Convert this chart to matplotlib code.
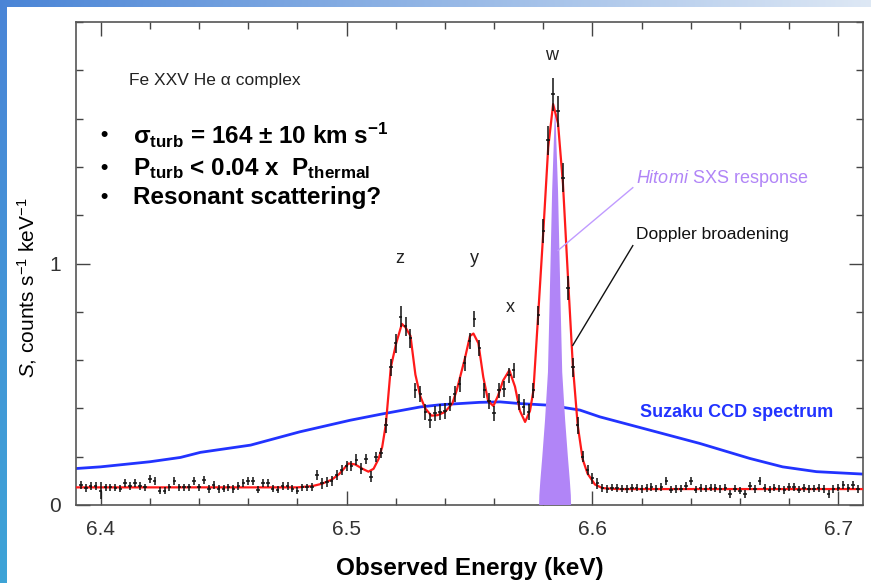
import numpy as np
import matplotlib
matplotlib.use('Agg')
import matplotlib.pyplot as plt
from matplotlib.patches import Rectangle
from matplotlib.ticker import MultipleLocator

plt.rcParams['font.family'] = 'Liberation Sans'
plt.rcParams['mathtext.fontset'] = 'custom'
plt.rcParams['mathtext.rm'] = 'Liberation Sans'
plt.rcParams['mathtext.it'] = 'Liberation Sans:italic'
plt.rcParams['mathtext.bf'] = 'Liberation Sans:bold'

# Hitomi SXS spectrum, bins of 2 eV starting at 6.392 keV
e_start = 6.392
e_step = 0.002
counts = [
    0.083, 0.070, 0.080, 0.080, 0.060, 0.073, 0.073, 0.072, 0.068, 0.090,
    0.078, 0.092, 0.080, 0.073, 0.107, 0.100, 0.060, 0.060, 0.073, 0.100,
    0.073, 0.073, 0.073, 0.100, 0.073, 0.103, 0.065, 0.083, 0.065, 0.068,
    0.073, 0.067, 0.078, 0.090, 0.100, 0.100, 0.064, 0.092, 0.092, 0.068,
    0.064, 0.078, 0.078, 0.068, 0.060, 0.073, 0.073, 0.076, 0.124, 0.090,
    0.095, 0.100, 0.124, 0.145, 0.162, 0.162, 0.188, 0.150, 0.190, 0.117,
    0.198, 0.216, 0.330, 0.570, 0.670, 0.780, 0.740, 0.690, 0.475, 0.460,
    0.385, 0.350, 0.380, 0.385, 0.390, 0.420, 0.460, 0.500, 0.587, 0.680,
    0.770, 0.650, 0.475, 0.430, 0.380, 0.475, 0.480, 0.537, 0.558, 0.427,
    0.406, 0.385, 0.475, 0.785, 1.136, 1.510, 1.700, 1.630, 1.355, 0.900,
    0.570, 0.330, 0.200, 0.145, 0.110, 0.090, 0.070, 0.066, 0.072, 0.070,
    0.068, 0.066, 0.070, 0.072, 0.066, 0.070, 0.075, 0.068, 0.074, 0.100,
    0.064, 0.066, 0.068, 0.078, 0.100, 0.064, 0.070, 0.068, 0.072, 0.070,
    0.066, 0.072, 0.045, 0.068, 0.060, 0.045, 0.080, 0.066, 0.100, 0.070,
    0.064, 0.072, 0.068, 0.062, 0.074, 0.075, 0.064, 0.070, 0.066, 0.068,
    0.070, 0.066, 0.045, 0.066, 0.072, 0.083, 0.070, 0.083, 0.066,
]
errors = ([0.016] * 4 + [0.035] + [0.016] * 43 + [0.022] * 14
          + [0.03, 0.035, 0.04, 0.045, 0.04, 0.04] + [0.032] * 25
          + [0.04, 0.05, 0.06, 0.07, 0.065, 0.06, 0.05, 0.04, 0.035]
          + [0.022] * 4 + [0.016] * 53)

model_e = [6.390, 6.480, 6.486, 6.490, 6.494, 6.497, 6.5008, 6.5035, 6.5065, 6.5089,
           6.511, 6.513, 6.5145, 6.516, 6.518, 6.5202, 6.5225, 6.524, 6.526, 6.528,
           6.530, 6.532, 6.5345, 6.537, 6.540, 6.543, 6.5448, 6.5482, 6.5502, 6.5516,
           6.5536, 6.5556, 6.5576, 6.5597, 6.5615, 6.5637, 6.5662, 6.5685, 6.5705, 6.5726,
           6.5746, 6.576, 6.578, 6.580, 6.582, 6.584, 6.586, 6.588, 6.590, 6.592,
           6.594, 6.596, 6.598, 6.601, 6.604, 6.610, 6.710]
model_s = [0.073, 0.073, 0.078, 0.088, 0.105, 0.128, 0.172, 0.168, 0.150, 0.138,
           0.150, 0.190, 0.240, 0.335, 0.570, 0.670, 0.750, 0.735, 0.700, 0.540,
           0.450, 0.400, 0.370, 0.372, 0.385, 0.420, 0.475, 0.610, 0.700, 0.710,
           0.670, 0.530, 0.430, 0.410, 0.450, 0.516, 0.558, 0.490, 0.390, 0.344,
           0.390, 0.475, 0.800, 1.130, 1.480, 1.660, 1.580, 1.330, 0.950, 0.580,
           0.330, 0.190, 0.130, 0.085, 0.070, 0.066, 0.066]

suzaku_e = [6.390, 6.400, 6.420, 6.4325, 6.4406, 6.461, 6.481, 6.5015, 6.514, 6.530,
            6.538, 6.554, 6.5624, 6.5705, 6.5827, 6.5949, 6.603, 6.6233, 6.6436, 6.6639,
            6.6773, 6.6911, 6.710]
suzaku_s = [0.151, 0.158, 0.179, 0.197, 0.218, 0.248, 0.303, 0.351, 0.376, 0.406,
            0.415, 0.425, 0.427, 0.420, 0.413, 0.393, 0.365, 0.310, 0.255, 0.193,
            0.158, 0.138, 0.128]

hitomi_e = [6.5783, 6.5784, 6.5788, 6.5796, 6.5807, 6.5819, 6.5826, 6.5836, 6.5848,
            6.5860, 6.5870, 6.5877, 6.5889, 6.5900, 6.5908, 6.5912, 6.5913]
hitomi_s = [0.0, 0.04, 0.1, 0.2, 0.35, 0.55, 0.85, 1.3, 1.66,
            1.3, 0.85, 0.55, 0.35, 0.2, 0.1, 0.04, 0.0]

energy = e_start + e_step * np.arange(len(counts))

fig = plt.figure(figsize=(8.71, 5.83), dpi=100)

# slide background
bg = fig.add_axes([0, 0, 1, 1])
bg.axis('off')
u = np.linspace(0, 1, 300)
v = np.linspace(0, 1, 200)
U, V = np.meshgrid(u, v)
left_c = np.array([0.29, 0.52, 0.84])
right_c = np.array([0.87, 0.91, 0.96])
img = left_c + (right_c - left_c) * U[..., None]
img = img + np.array([-0.05, 0.12, 0.0]) * (V * (1 - U))[..., None]
bg.imshow(np.clip(img, 0, 1), extent=[0, 1, 0, 1], aspect='auto', origin='upper')
bg.add_patch(Rectangle((7 / 871, 0), 1, 576 / 583, facecolor='white', edgecolor='none'))
bg.set_xlim(0, 1)
bg.set_ylim(0, 1)

ax = fig.add_axes([76 / 871, 78 / 583, 787 / 871, 483 / 583])
ax.set_xlim(6.39, 6.71)
ax.set_ylim(0, 2)

ax.plot(suzaku_e, suzaku_s, color='#2233ff', lw=2.0, zorder=2)
ax.fill(hitomi_e, hitomi_s, color='#b185f7', lw=0, zorder=3)
ax.plot(model_e, model_s, color='#ff1a1a', lw=1.6, zorder=4)
ax.errorbar(energy, counts, yerr=errors, xerr=0.0007, fmt='none',
            ecolor='#111111', elinewidth=1.1, zorder=5)

ax.xaxis.set_major_locator(MultipleLocator(0.1))
ax.xaxis.set_minor_locator(MultipleLocator(0.02))
ax.set_yticks([0, 1])
ax.yaxis.set_minor_locator(MultipleLocator(0.2))
ax.tick_params(which='both', direction='in', top=True, right=True, color='#444444', width=1.0)
ax.tick_params(which='major', length=10, labelsize=15, labelcolor='#333333', pad=11)
ax.tick_params(which='minor', length=5)
for s in ax.spines.values():
    s.set_color('#555555')
    s.set_linewidth(1.2)

ax.set_xlabel('Observed Energy (keV)', fontsize=17.5, fontweight='bold', labelpad=13)
ax.set_ylabel(r'$S$, counts s$^{-1}$ keV$^{-1}$', fontsize=15)
ax.yaxis.set_label_coords(-0.047, 0.45)

ax.text(6.4114, 1.756, u'Fe XXV He \u03b1 complex', fontsize=12.5, va='center', color='#222222')
for yy, txt in [(1.529, r'$\mathbf{\sigma_{turb}}$ = 164 ± 10 km s$^{\mathbf{-1}}$'),
                (1.395, r'$\mathbf{P_{turb}}$ < 0.04 x  $\mathbf{P_{thermal}}$'),
                (1.273, 'Resonant scattering?')]:
    ax.text(6.4012, yy, u'\u2022', fontsize=15, fontweight='bold', va='center', ha='center')
    ax.text(6.413, yy, txt, fontsize=17.5, fontweight='bold', va='center')

for lx, ly, lab in [(6.5218, 1.02, 'z'), (6.5518, 1.02, 'y'), (6.5665, 0.818, 'x'), (6.5835, 1.86, 'w')]:
    ax.text(lx, ly, lab, fontsize=13, ha='center', va='center', color='#222222')

ax.text(6.6176, 1.351, r'$\it{Hitomi}$ SXS response', fontsize=13, color='#b185f7', va='center')
ax.plot([6.6164, 6.586], [1.314, 1.054], color='#c09bff', lw=1.0, zorder=6)
ax.text(6.6176, 1.12, 'Doppler broadening', fontsize=12.5, color='#111111', va='center')
ax.plot([6.6164, 6.592], [1.074, 0.661], color='#111111', lw=1.0, zorder=6)
ax.text(6.6192, 0.384, 'Suzaku CCD spectrum', fontsize=13, fontweight='bold', color='#2233ff', va='center')

plt.savefig('out.png', dpi=100)
